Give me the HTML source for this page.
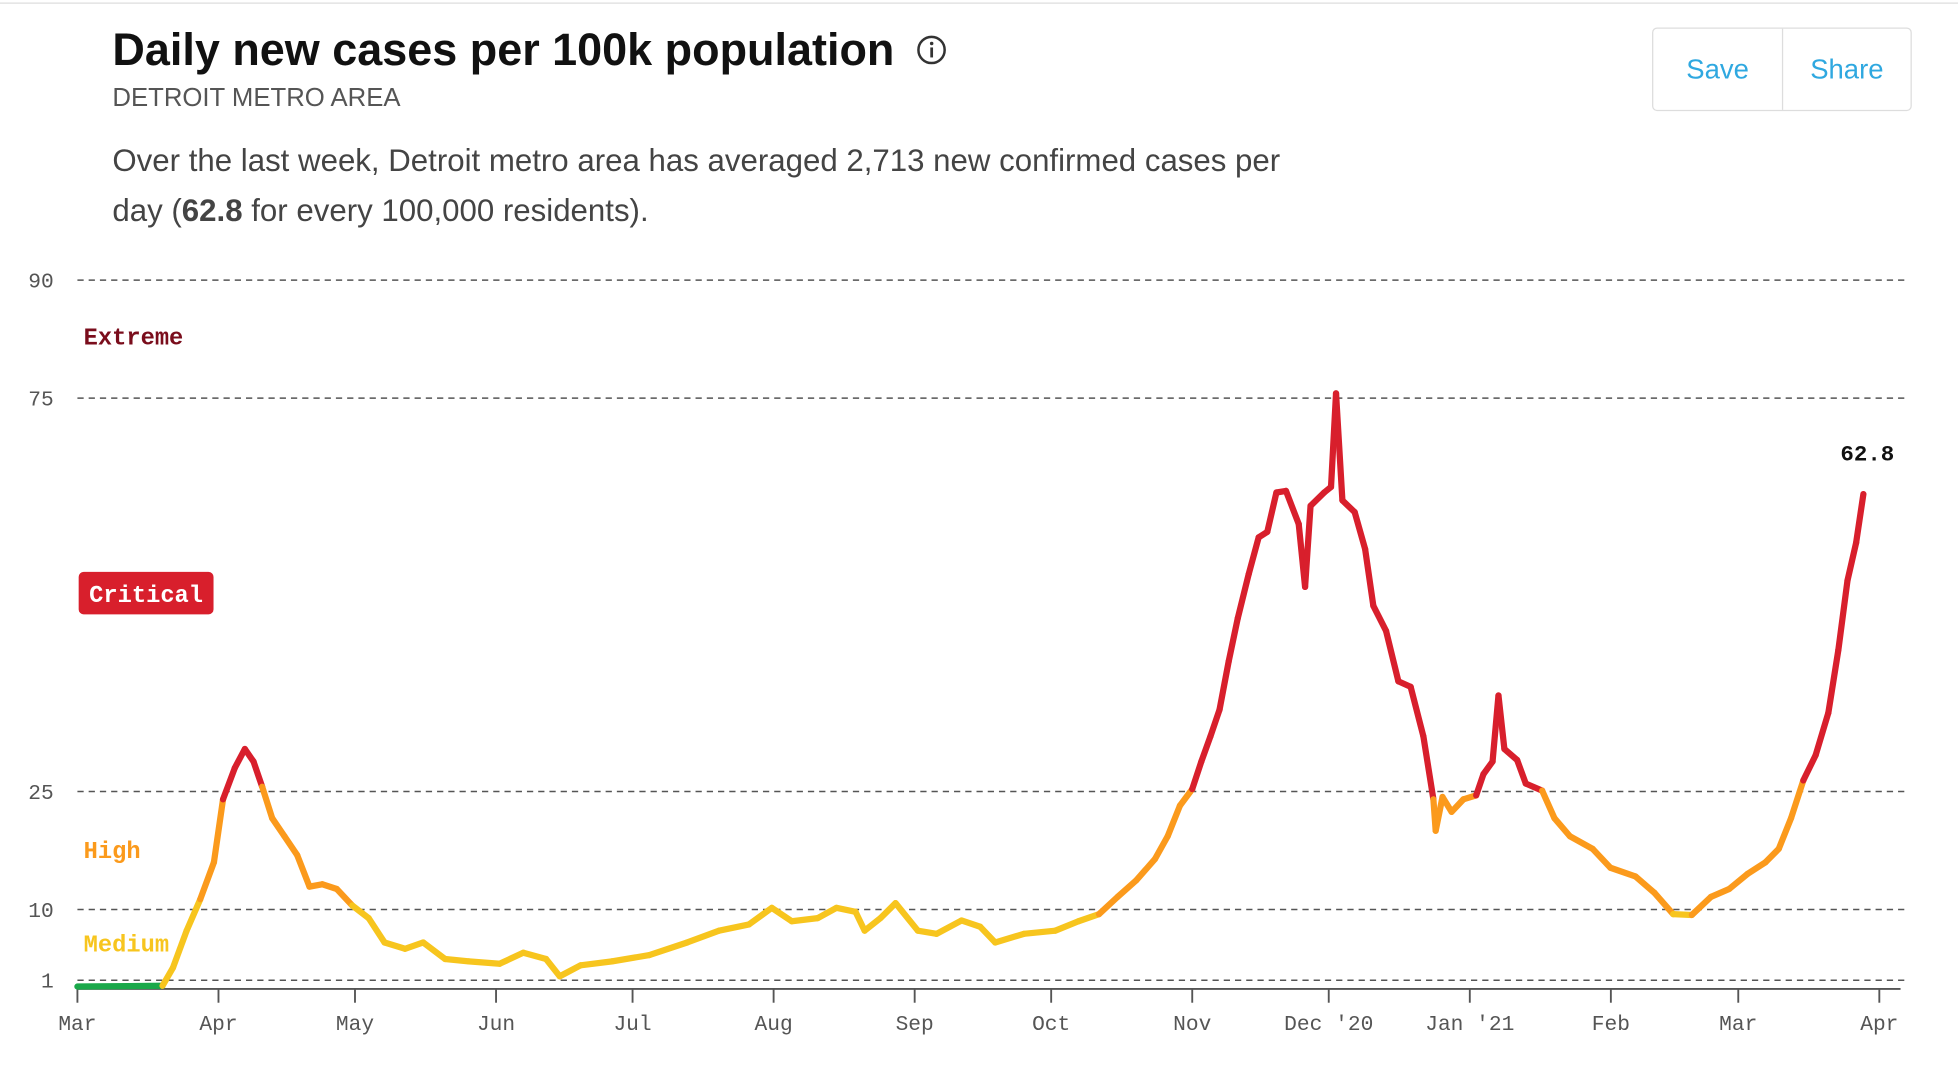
<!DOCTYPE html>
<html><head><meta charset="utf-8"><style>
html,body{margin:0;padding:0;background:#fff;overflow:hidden;width:1958px;height:1066px}
#wrap{position:absolute;left:0;top:0;width:1568px;height:854px;transform:scale(1.24872);transform-origin:0 0;font-family:"Liberation Sans",sans-serif}
.t{position:absolute;white-space:nowrap}
</style></head><body>
<div id="wrap">
<div style="position:absolute;left:0;top:2px;width:1568px;height:1px;background:#ddd"></div>
<div class="t" style="left:90px;top:19px;font-size:36px;font-weight:bold;color:#111">Daily new cases per 100k population</div>
<svg style="position:absolute;left:733px;top:27px" width="26" height="26"><circle cx="13" cy="13" r="10.5" fill="none" stroke="#333" stroke-width="2"/><rect x="12" y="11" width="2.2" height="8" fill="#333"/><circle cx="13.1" cy="7.8" r="1.4" fill="#333"/></svg>
<div class="t" style="left:90px;top:67px;font-size:20.6px;color:#555">DETROIT METRO AREA</div>
<div class="t" style="left:90px;top:109px;font-size:25px;color:#444;line-height:40px">Over the last week, Detroit metro area has averaged 2,713 new confirmed cases per<br>day (<b>62.8</b> for every 100,000 residents).</div>
<div style="position:absolute;left:1323px;top:22px;width:206px;height:65px;border:1px solid #ddd;border-radius:4px">
<div class="t" style="left:0;top:0;width:103px;height:65px;line-height:65px;text-align:center;color:#2fa8e0;font-size:22px">Save</div>
<div style="position:absolute;left:103px;top:0;width:1px;height:65px;background:#ddd"></div>
<div class="t" style="left:104px;top:0;width:102px;height:65px;line-height:65px;text-align:center;color:#2fa8e0;font-size:22px">Share</div>
</div>
<svg id="chart" style="position:absolute;left:0;top:0" width="1568" height="854"></svg>
</div>
<script>
const days=[0,18.7,21,24,27,30,32,34.6,36.8,38.7,40.6,42.8,45.5,48.3,51,53.8,57,60.4,64,67.5,72,76,80.8,86,92.8,98,103,106,110.6,117.5,125.7,134,141,147.6,152.6,157,162.7,166.8,171,173,176.5,179.8,184.7,188.8,194.3,198.4,201.7,208,214.9,220,224.5,228.6,232.7,236.8,239.6,242.3,245,247,249,251,253,255,257.4,259.6,261.5,263.5,265.6,268.4,269.8,271,274,275.5,276.6,278,280.7,283,284.8,287.6,290.3,293,295.8,298,298.5,300,302,304.6,307.4,309,311,312.3,313.6,316.4,318.3,321.9,324.6,328,333,336.9,342.4,346.6,350.7,354.8,359,363,367,371,373.9,376.6,379.3,382,384.8,387,389,390.9,392.5];
const values=[0.2,0.3,2.6,7.3,11.3,16,24,28,30.4,28.8,25.6,21.6,19.3,16.9,12.9,13.2,12.6,10.5,8.9,5.8,5,5.8,3.7,3.4,3.1,4.5,3.7,1.5,2.9,3.4,4.2,5.8,7.3,8.1,10.2,8.5,8.9,10.2,9.7,7.3,8.9,10.8,7.3,6.9,8.6,7.8,5.8,6.9,7.3,8.5,9.4,11.6,13.7,16.4,19.3,23.2,25.3,28.8,32,35.4,41.5,47,52.6,57.3,58,63,63.2,59,51,61.3,63,63.7,75.6,62,60.5,55.8,48.6,45.4,39,38.3,32,24,20,24.3,22.4,24,24.5,27.2,28.8,37.2,30.4,29,26,25.1,21.6,19.3,17.7,15.3,14.2,12.1,9.4,9.3,11.6,12.6,14.5,16,17.7,21.6,26.4,29.6,35,43,51.8,56.6,62.8];
const yTicks=[1,10,25,75,90];
const xLabels=["Mar","Apr","May","Jun","Jul","Aug","Sep","Oct","Nov","Dec '20","Jan '21","Feb","Mar","Apr"];
const xTickDays=[0,31,61,92,122,153,184,214,245,275,306,337,365,396];
const NS="http://www.w3.org/2000/svg";
const svg=document.getElementById('chart');
const X=d=>62+d*(1505-62)/396;
const Y=v=>785-(v-1)*6.3;
function mk(tag,attrs,txt){const e=document.createElementNS(NS,tag);for(const k in attrs)e.setAttribute(k,attrs[k]);if(txt!==undefined)e.textContent=txt;svg.appendChild(e);return e;}
yTicks.forEach(v=>{
 const l=mk('line',{x1:62,x2:1525,y1:Y(v),y2:Y(v),stroke:'#555','stroke-width':1.2,'stroke-dasharray':'5,4'});
 
 
 const t=mk('text',{x:43,y:Y(v)+6,'text-anchor':'end','font-family':'Liberation Mono, monospace','font-size':17,fill:'#555'},String(v));
 
 
});
const ax=mk('line',{x1:62,x2:1522,y1:792,y2:792,stroke:'#555','stroke-width':1.5});


xLabels.forEach((s,i)=>{
 const x=X(xTickDays[i]);
 const tk=mk('line',{x1:x,x2:x,y1:792,y2:803,stroke:'#555','stroke-width':1.5});
 
 
 const t=mk('text',{x:x,y:825,'text-anchor':'middle','font-family':'Liberation Mono, monospace','font-size':17,fill:'#555'},s);
 
 
});
function col(v){return v<1?'#1aa84a':v<10?'#f7c51e':v<25?'#fb9a1c':v<75?'#d81f2c':'#7a0d1c';}
for(let i=0;i<days.length-1;i++){
 const m=(values[i]+values[i+1])/2;
 const s=mk('line',{x1:X(days[i]),y1:Y(values[i]),x2:X(days[i+1]),y2:Y(values[i+1]),stroke:col(m),'stroke-width':5,'stroke-linecap':'round'});
 
 
}
const last=values[values.length-1];
const lv=mk('text',{x:1517,y:Y(last)-27,'text-anchor':'end','font-family':'Liberation Mono, monospace','font-size':18,'font-weight':'bold',fill:'#111'},last.toFixed(1));


const bands=[['Extreme',276,'#7a0d1c'],['High',687,'#fb9a1c'],['Medium',762,'#f7c51e']];
bands.forEach(b=>{
 const t=mk('text',{x:67,y:b[1],'font-family':'Liberation Mono, monospace','font-size':19,'font-weight':'bold',fill:b[2]},b[0]);
 
 
});
const cb=mk('rect',{x:63,y:458,width:108,height:34,rx:4,fill:'#d81f2c'});


const ct=mk('text',{x:117,y:482,'text-anchor':'middle','font-family':'Liberation Mono, monospace','font-size':19,'font-weight':'bold',fill:'#fff'},'Critical');


</script>
</body></html>
